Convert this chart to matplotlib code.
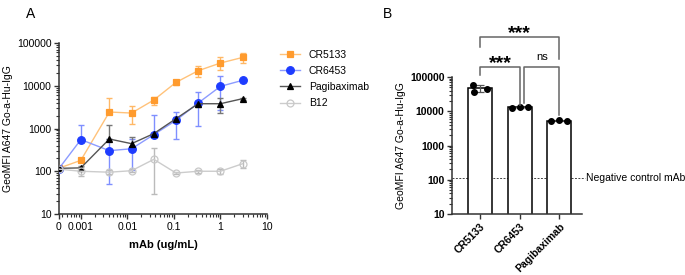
import numpy as np
import matplotlib
matplotlib.use("Agg")
import matplotlib.pyplot as plt
from matplotlib.ticker import LogLocator, FixedLocator, NullFormatter

plt.rcParams["font.family"] = ["Liberation Sans", "DejaVu Sans"]

# ---- Panel A data (GeoMFI vs mAb concentration) ----
conc = [0, 0.001, 0.0041, 0.0123, 0.037, 0.111, 0.333, 1, 3]
ZERO_POS = 10 ** -3.47  # where the "0" concentration sits on the log axis

cr5133 = [118, 180, 2430, 2300, 4640, 12000, 22500, 34000, 46000]
cr5133_lo = [110, 165, 2430, 1300, 3600, 10500, 16000, 23000, 35000]
cr5133_hi = [126, 200, 5160, 3300, 5460, 13500, 28400, 47000, 58000]

cr6453 = [116, 550, 303, 336, 718, 1550, 3950, 9680, 13400]
cr6453_lo = [110, 550, 50, 109, 718, 567, 1160, 2700, 12500]
cr6453_hi = [122, 1230, 556, 563, 2030, 2480, 7010, 16600, 14300]

pagi = [117, 120, 568, 442, 760, 1700, 3800, 3800, 4990]
pagi_lo = [110, 108, 568, 295, 720, 1550, 3200, 2300, 4700]
pagi_hi = [124, 135, 1200, 630, 800, 1850, 4300, 5160, 5300]

b12 = [112, 100, 95, 103, 190, 91, 100, 100, 150]
b12_lo = [108, 76, 85, 95, 30, 86, 92, 88, 118]
b12_hi = [116, 126, 105, 111, 350, 96, 108, 112, 185]

# ---- Panel B data (3 ug/mL replicates) ----
groups = ["CR5133", "CR6453", "Pagibaximab"]
reps = [[58000, 36000, 46000], [12500, 13500, 13500], [5300, 5400, 5300]]
neg_control = 110

ORANGE = "#FF9B2E"
BLUE = "#1E3CFF"
GREY_AX = "#333333"

fig = plt.figure(figsize=(6.85, 2.75), dpi=100)

# ================= Panel A =================
ax = fig.add_axes([0.0861, 0.2218, 0.3036, 0.6218])
xpos = [ZERO_POS if c == 0 else c for c in conc]

series = [
    ("CR5133", cr5133, cr5133_lo, cr5133_hi, ORANGE, "#FFC27A", "#FFB866", "s", ORANGE, 5),
    ("CR6453", cr6453, cr6453_lo, cr6453_hi, BLUE, "#8C9BFF", "#7F8FFF", "o", BLUE, 5.5),
    ("Pagibaximab", pagi, pagi_lo, pagi_hi, "black", "#555555", "#777777", "^", "black", 5),
    ("B12", b12, b12_lo, b12_hi, "#C8C8C8", "#CCCCCC", "#BBBBBB", "o", "none", 5),
]
handles = []
for name, y, lo, hi, mc, lc, ec, mk, fc, ms in series:
    y = np.array(y, float)
    yerr = [y - np.array(lo, float), np.array(hi, float) - y]
    ax.errorbar(xpos, y, yerr=yerr, fmt="none", ecolor=ec, elinewidth=1.0,
                capsize=2.5, capthick=1.0, zorder=2)
    h, = ax.plot(xpos, y, linestyle="-", color=lc, lw=1.0, marker=mk, ms=ms,
                 markerfacecolor=fc, markeredgecolor=mc, markeredgewidth=0.9,
                 zorder=4, label=name)
    handles.append(h)

ax.set_xscale("log")
ax.set_yscale("log")
ax.set_xlim(ZERO_POS, 10)
ax.set_ylim(10, 100000)
ax.xaxis.set_major_locator(FixedLocator([ZERO_POS, 0.001, 0.01, 0.1, 1, 10]))
ax.set_xticklabels(["0", "0.001", "0.01", "0.1", "1", "10"])
ax.xaxis.set_minor_locator(LogLocator(base=10, subs=np.arange(2, 10), numticks=20))
ax.xaxis.set_minor_formatter(NullFormatter())
ax.yaxis.set_major_locator(FixedLocator([10, 100, 1000, 10000, 100000]))
ax.set_yticklabels(["10", "100", "1000", "10000", "100000"])
ax.yaxis.set_minor_locator(LogLocator(base=10, subs=np.arange(2, 10), numticks=20))
ax.yaxis.set_minor_formatter(NullFormatter())

for a in ["top", "right"]:
    ax.spines[a].set_visible(False)
for a in ["left", "bottom"]:
    ax.spines[a].set_color(GREY_AX)
    ax.spines[a].set_linewidth(1.1)
ax.tick_params(which="major", length=3.5, width=1.0, color=GREY_AX, labelsize=7.5, pad=2)
ax.tick_params(which="minor", length=2, width=0.8, color=GREY_AX)
ax.set_ylabel("GeoMFI A647 Go-a-Hu-IgG", fontsize=7.5, labelpad=3)
ax.set_xlabel("mAb (ug/mL)", fontsize=8, fontweight="bold", labelpad=6)

fig.legend(handles=handles, loc="upper left", bbox_to_anchor=(0.402, 0.835),
           frameon=False, fontsize=7.5, handlelength=2.0, handletextpad=0.8,
           labelspacing=0.6, borderaxespad=0)

fig.text(0.045, 0.975, "A", fontsize=10, va="top", ha="center")
fig.text(0.566, 0.975, "B", fontsize=10, va="top", ha="center")

# ================= Panel B =================
bx = fig.add_axes([0.66, 0.2218, 0.19, 0.498])
xi = np.arange(len(groups))
means = [np.mean(r) for r in reps]
sds = [np.std(r, ddof=1) for r in reps]
bx.bar(xi, means, width=0.61, color="white", edgecolor="black", linewidth=1.1, zorder=2)
bx.errorbar(xi, means, yerr=sds, fmt="none", ecolor="#555555", elinewidth=0.9,
            capsize=3, capthick=0.9, zorder=3)
offs = [np.array([-0.18, -0.16, 0.16]), np.array([-0.2, 0.0, 0.2]), np.array([-0.2, 0.0, 0.2])]
for i, r in enumerate(reps):
    bx.scatter(i + offs[i], r, s=16, color="black", zorder=4)

bx.axhline(neg_control, color="#444444", lw=0.7, ls=(0, (2, 1.5)), xmax=1.02, clip_on=False, zorder=1)
bx.text(2.68, neg_control, "Negative control mAb", fontsize=7.5, va="center", ha="left")

bx.set_yscale("log")
bx.set_ylim(10, 100000)
bx.set_xlim(-0.71, 2.58)
bx.yaxis.set_major_locator(FixedLocator([10, 100, 1000, 10000, 100000]))
bx.set_yticklabels(["10", "100", "1000", "10000", "100000"], fontweight="bold")
bx.yaxis.set_minor_locator(LogLocator(base=10, subs=np.arange(2, 10), numticks=20))
bx.yaxis.set_minor_formatter(NullFormatter())
bx.set_xticks(xi)
bx.set_xticklabels(groups, rotation=45, ha="right", rotation_mode="anchor",
                   fontweight="bold")
for a in ["top", "right"]:
    bx.spines[a].set_visible(False)
for a in ["left", "bottom"]:
    bx.spines[a].set_color(GREY_AX)
    bx.spines[a].set_linewidth(1.1)
bx.tick_params(which="major", length=3.5, width=1.0, color=GREY_AX, labelsize=7.5, pad=2)
bx.tick_params(which="minor", length=2, width=0.8, color=GREY_AX)
bx.set_ylabel("GeoMFI A647 Go-a-Hu-IgG", fontsize=7.5, labelpad=3)

# significance brackets: (left x, right x, top, left leg end, right leg end, label)
brackets = [
    (0, 2, 10 ** 6.17, 10 ** 5.87, 10 ** 5.52, "***"),
    (0, 1, 10 ** 5.29, 10 ** 5.06, 10 ** 4.18, "***"),
    (1.12, 2, 10 ** 5.29, 10 ** 4.24, 10 ** 3.89, "ns"),
]
for x1, x2, ytop, yl, yr, label in brackets:
    bx.plot([x1, x1, x2, x2], [yl, ytop, ytop, yr], color="#666666", lw=1.1,
            clip_on=False, zorder=5)
    if label == "ns":
        bx.text((x1 + x2) / 2, ytop * 10 ** 0.2, label, fontsize=8,
                ha="center", va="baseline", clip_on=False)
    else:
        bx.text((x1 + x2) / 2, ytop * 10 ** -0.03, label, fontsize=14,
                fontweight="bold", ha="center", va="baseline", clip_on=False)

fig.savefig("out.png", dpi=100)
